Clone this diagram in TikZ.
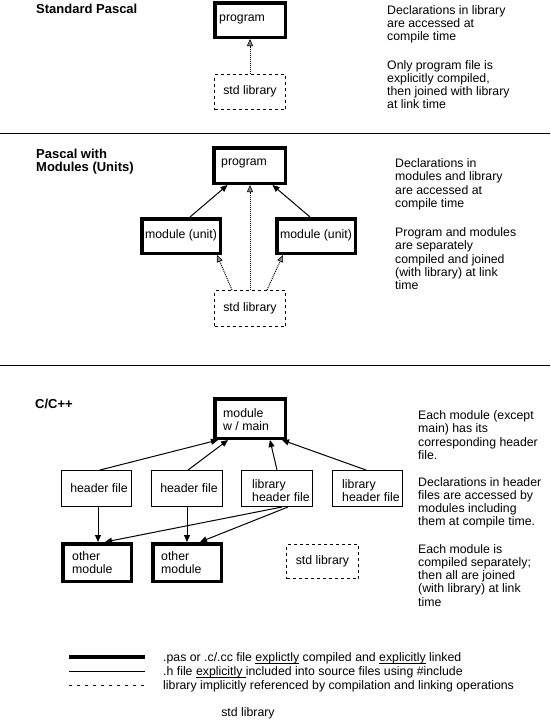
\documentclass[tikz,border=0pt]{standalone}
\usepackage{fontspec}
\setmainfont{Liberation Sans}
\usetikzlibrary{arrows.meta}
\newcommand\txtlines[1]{\vtop{\baselineskip=13.3pt\lineskiplimit=-20pt\lineskip=0pt\halign{##\hfil\cr#1\crcr}}}
\newcommand\myul[1]{\setbox0\hbox{#1}\rlap{\vrule height -1.6pt depth 2.6pt width \wd0}\box0\relax}
\begin{document}
\begin{tikzpicture}[x=1pt,y=-1pt,
  font=\fontsize{12.3}{13.3}\selectfont,
  thickbox/.style={draw, line width=3.5pt, inner sep=0pt},
  thinbox/.style={draw, line width=1pt, inner sep=0pt},
  dashbox/.style={draw, line width=1pt, dash pattern=on 3pt off 3pt, inner sep=0pt},
  txt/.style={inner sep=0pt, anchor=base west},
  ctxt/.style={inner sep=0pt, anchor=base},
  title/.style={inner sep=0pt, anchor=base west, font=\bfseries\fontsize{13}{13.3}\selectfont},
  incl/.style={line width=1pt, -{Triangle[length=7pt,width=6pt]}},
  libarrow/.style={line width=1pt, dash pattern=on 1pt off 1pt,
     -{Triangle[length=7pt,width=6pt,fill=black!45,color=black,line width=0.6pt]}},
  rule/.style={line width=1pt}
]
\useasboundingbox (0,0) rectangle (550,721);
\fill[white] (0,0) rectangle (550,721);

% ---------- Section 1: Standard Pascal ----------
\node[title] (t1) at (36,13.3) {Standard Pascal};
\node[thickbox, minimum width=70.5pt, minimum height=34.5pt] (prog1) at (250,20) {};
\node[txt] (prog1t) at (219,21.5) {program};
\node[dashbox, minimum width=71pt, minimum height=35pt] (lib1) at (250,92) {};
\node[ctxt] (lib1t) at (250,94.5) {std library};
\draw[libarrow] (lib1.north) -- (prog1.south);
\node[txt] (d1a) at (387,14) {\txtlines{Declarations in library\cr are accessed at\cr compile time}};
\node[txt] (d1b) at (387,69) {\txtlines{Only program file is\cr explicitly compiled,\cr then joined with library\cr at link time}};

\coordinate (r1a) at (0,133); \coordinate (r1b) at (550,133);
\draw[rule] (r1a) -- (r1b);

% ---------- Section 2: Pascal with Modules ----------
\node[title] (t2) at (36,158.5) {\txtlines{Pascal with\cr Modules (Units)}};
\node[thickbox, minimum width=71.5pt, minimum height=35.5pt] (prog2) at (249.5,165.5) {};
\node[txt] (prog2t) at (221,165) {program};
\node[thickbox, minimum width=78.5pt, minimum height=34.5pt] (m1) at (181,236) {};
\node[ctxt] (m1t) at (181,238) {module (unit)};
\node[thickbox, minimum width=78.5pt, minimum height=34.5pt] (m2) at (316,236) {};
\node[ctxt] (m2t) at (316,238) {module (unit)};
\node[dashbox, minimum width=71pt, minimum height=36pt] (lib2) at (250,308.5) {};
\node[ctxt] (lib2t) at (250,311) {std library};
\draw[incl] ([xshift=9pt]m1.north) -- ([xshift=-22pt]prog2.south);
\draw[incl] ([xshift=-6pt]m2.north) -- ([xshift=23pt]prog2.south);
\draw[libarrow] (lib2.north) -- (lib2.north |- prog2.south);
\draw[libarrow] ([xshift=-18pt]lib2.north) -- ([xshift=36pt]m1.south);
\draw[libarrow] ([xshift=17pt]lib2.north) -- ([xshift=-33pt]m2.south);
\node[txt] (d2a) at (395,167.5) {\txtlines{Declarations in\cr modules and library\cr are accessed at\cr compile time}};
\node[txt] (d2b) at (395,236.5) {\txtlines{Program and modules\cr are separately\cr compiled and joined\cr (with library) at link\cr time}};

\coordinate (r2a) at (0,365); \coordinate (r2b) at (550,365);
\draw[rule] (r2a) -- (r2b);

% ---------- Section 3: C/C++ ----------
\node[title] (t3) at (35,408) {C/C++};
\node[thickbox, minimum width=70.5pt, minimum height=39.5pt] (mm) at (250,418.5) {};
\node[txt] (mmt) at (223,417) {\txtlines{module\cr w / main}};
\node[thinbox, minimum width=70pt, minimum height=36pt] (h1) at (96.5,488.5) {};
\node[ctxt] (h1t) at (99,492.5) {header file};
\node[thinbox, minimum width=71pt, minimum height=36pt] (h2) at (187,488.5) {};
\node[ctxt] (h2t) at (189,492.5) {header file};
\node[thinbox, minimum width=71pt, minimum height=36pt] (lh1) at (277,488.5) {};
\node[txt] (lh1t) at (252,488) {\txtlines{library\cr header file}};
\node[thinbox, minimum width=70pt, minimum height=36pt] (lh2) at (367.5,488.5) {};
\node[txt] (lh2t) at (342,488) {\txtlines{library\cr header file}};
\node[thickbox, minimum width=68.5pt, minimum height=37.5pt] (om1) at (97,562.5) {};
\node[txt] (om1t) at (72,560) {\txtlines{other\cr module}};
\node[thickbox, minimum width=68.5pt, minimum height=37.5pt] (om2) at (187,562.5) {};
\node[txt] (om2t) at (161,560) {\txtlines{other\cr module}};
\node[dashbox, minimum width=72pt, minimum height=34pt] (lib3) at (322.5,561.5) {};
\node[ctxt] (lib3t) at (322.5,564) {std library};

\draw[incl] ([xshift=3.5pt]h1.north) -- ([xshift=-32pt]mm.south);
\draw[incl] ([xshift=1pt]h2.north) -- ([xshift=-22pt]mm.south);
\draw[incl] (lh1.north) -- ([xshift=20pt]mm.south);
\draw[incl] ([xshift=-1.5pt]lh2.north) -- ([xshift=32pt]mm.south);
\draw[incl] ([xshift=1.5pt]h1.south) -- ([xshift=1pt]om1.north);
\draw[incl] (h2.south) -- (om2.north);
\draw[incl] ([xshift=5pt]lh1.south) -- ([xshift=8pt]om1.north);
\draw[incl] ([xshift=11pt]lh1.south) -- ([xshift=13pt]om2.north);

\node[txt] (d3a) at (418,419.5) {\txtlines{Each module (except\cr main) has its\cr corresponding header\cr file.}};
\node[txt] (d3b) at (418,486) {\txtlines{Declarations in header\cr files are accessed by\cr modules including\cr them at compile time.}};
\node[txt] (d3c) at (418,553) {\txtlines{Each module is\cr compiled separately;\cr then all are joined\cr (with library) at link\cr time}};

% ---------- Legend ----------
\coordinate (l1a) at (69,657); \coordinate (l1b) at (145,657);
\coordinate (l2a) at (69,671); \coordinate (l2b) at (145,671);
\coordinate (l3a) at (69,685); \coordinate (l3b) at (145,685);
\draw[line width=3.5pt] (l1a) -- (l1b);
\draw[line width=1pt] (l2a) -- (l2b);
\draw[line width=1pt, dash pattern=on 3pt off 5pt] (l3a) -- (l3b);
\node[txt] (g1) at (163,661) {.pas or .c/.cc file \myul{explictly} compiled and \myul{explicitly} linked};
\node[txt] (g2) at (163,675) {.h file \myul{explicitly\ }included into source files using \#include};
\node[txt] (g3) at (163,689) {library implicitly referenced by compilation and linking operations};
\node[ctxt] (g4) at (248,716) {std library};
\end{tikzpicture}
\end{document}
